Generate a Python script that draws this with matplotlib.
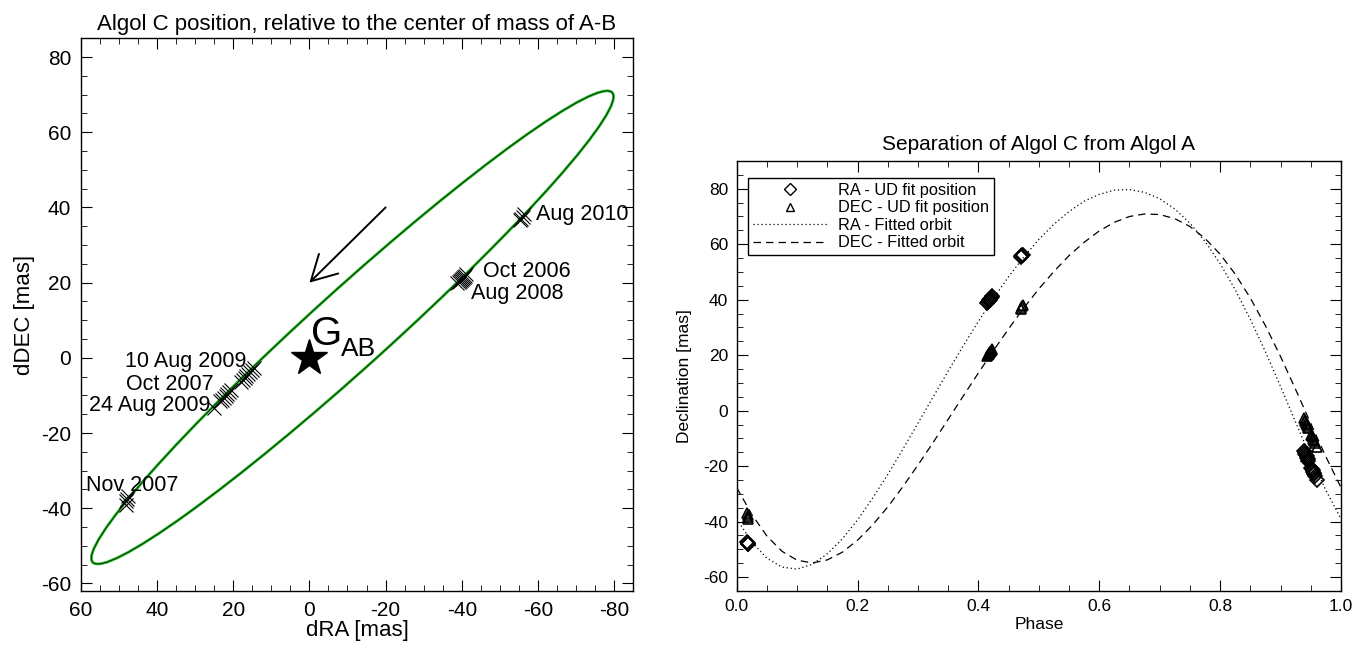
import numpy as np
import matplotlib
matplotlib.use("Agg")
import matplotlib.pyplot as plt
from matplotlib.patches import Ellipse
from matplotlib.lines import Line2D
from matplotlib.ticker import MultipleLocator

plt.rcParams.update({"font.family": ["Liberation Sans", "DejaVu Sans"],
                     "xtick.direction": "in", "ytick.direction": "in",
                     "xtick.top": True, "ytick.right": True,
                     "axes.unicode_minus": False, "axes.linewidth": 1.0})

# observations; RA as on the right panel, left panel uses dRA = -RA
obs_phase = [0.017, 0.018, 0.019, 0.019,
             0.414, 0.416, 0.417, 0.418, 0.419, 0.420, 0.421, 0.422, 0.423,
             0.470, 0.471, 0.472, 0.473,
             0.939, 0.940, 0.941, 0.942, 0.943, 0.944, 0.945, 0.946,
             0.951, 0.952, 0.953, 0.954, 0.955, 0.956, 0.957, 0.961]
obs_ra = [-47.5, -47.8, -48.0, -48.2,
          38.8, 39.2, 39.5, 39.8, 40.0, 40.3, 40.6, 40.9, 41.2,
          55.3, 55.6, 56.0, 56.2,
          -14.5, -15.0, -15.5, -16.0, -16.5, -17.0, -17.5, -18.0,
          -20.5, -21.0, -21.5, -22.0, -22.5, -23.0, -23.5, -25.0]
obs_dec = [-36.8, -37.5, -38.2, -39.0,
           19.8, 20.1, 20.4, 20.7, 21.0, 21.3, 21.6, 21.9, 22.2,
           36.6, 37.0, 37.6, 38.2,
           -2.8, -3.3, -3.8, -4.3, -4.8, -5.3, -5.8, -6.3,
           -8.6, -9.1, -9.6, -10.1, -10.6, -11.1, -11.6, -13.2]

# fitted orbit, sampled every 0.025 in phase
fit_phase = np.linspace(0, 1, 41)
ra_fit = [-39.0, -47.3, -53.2, -56.4, -57.1, -55.4, -51.6, -46.2, -39.4, -31.5, -23.0,
          -13.9, -4.5, 4.9, 14.3, 23.4, 32.2, 40.5, 48.3, 55.4, 61.7, 67.2, 71.8, 75.5,
          78.0, 79.5, 79.7, 78.7, 76.4, 72.7, 67.6, 61.0, 53.0, 43.6, 32.9, 21.2, 8.7,
          -4.2, -16.9, -28.7, -39.0]
dec_fit = [-27.7, -37.4, -45.2, -50.7, -53.9, -54.9, -53.8, -51.0, -46.7, -41.2, -34.7,
           -27.4, -19.6, -11.5, -3.1, 5.3, 13.6, 21.7, 29.5, 37.0, 43.9, 50.2, 55.9, 60.7,
           64.8, 67.9, 70.0, 70.9, 70.7, 69.2, 66.4, 62.1, 56.4, 49.2, 40.6, 30.6, 19.5,
           7.6, -4.6, -16.6, -27.7]

# apparent orbit ellipse (dRA, dDEC): centre, full axes, position angle
orbit_center = (-11.3, 8.1)
orbit_major, orbit_minor, orbit_angle = 184.9, 20.5, -42.5

# epoch labels: text, (x, y), horizontal alignment
epoch_labels = [("Aug 2010", (-59.5, 38.0), "left"),
                ("Oct 2006", (-45.5, 23.0), "left"),
                ("Aug 2008", (-42.5, 17.0), "left"),
                ("10 Aug 2009", (16.5, -1.0), "right"),
                ("Oct 2007", (25.0, -7.0), "right"),
                ("24 Aug 2009", (26.0, -12.8), "right"),
                ("Nov 2007", (58.5, -34.0), "left")]
arrow_from, arrow_to = (-20, 40), (0, 20)

fig = plt.figure(figsize=(13.66, 6.5), dpi=100)

# left: position on sky
ax = fig.add_axes([0.0591, 0.0908, 0.4045, 0.8503])
ax.add_patch(Ellipse(orbit_center, orbit_major, orbit_minor, angle=orbit_angle,
                     fill=False, ec="#1fb41f", lw=2.0))
ax.add_patch(Ellipse(orbit_center, orbit_major, orbit_minor, angle=orbit_angle,
                     fill=False, ec="black", lw=0.45))
ax.plot(-np.array(obs_ra), obs_dec, "x", color="black", ms=10, mew=0.8)
ax.plot([0], [0], "*", color="black", ms=27)
ax.text(-0.5, 3.5, "G", fontsize=29, ha="left", va="baseline")
ax.text(-8.3, 0.5, "AB", fontsize=19, ha="left", va="baseline")
for txt, xy, ha in epoch_labels:
    ax.text(xy[0], xy[1], txt, fontsize=15.5, ha=ha, va="center")
ax.annotate("", xy=arrow_to, xytext=arrow_from,
            arrowprops=dict(arrowstyle="->,head_length=0.4,head_width=0.22",
                            mutation_scale=45, lw=1.4, color="black",
                            shrinkA=0, shrinkB=0))
ax.set_xlim(60, -85)
ax.set_ylim(-62, 85)
ax.xaxis.set_major_locator(MultipleLocator(20))
ax.xaxis.set_minor_locator(MultipleLocator(5))
ax.yaxis.set_major_locator(MultipleLocator(20))
ax.yaxis.set_minor_locator(MultipleLocator(5))
ax.tick_params(which="major", length=8, labelsize=15, pad=7)
ax.tick_params(which="minor", length=4)
ax.set_xlabel("dRA [mas]", fontsize=16, labelpad=0)
ax.set_ylabel("dDEC [mas]", fontsize=16, labelpad=4)
ax.set_title("Algol C position, relative to the center of mass of A-B", fontsize=16, pad=6)

# right: separation versus phase
ax2 = fig.add_axes([0.5393, 0.0908, 0.4424, 0.6615])
ax2.plot(fit_phase, ra_fit, ls=(0, (1, 2.2)), color="black", lw=0.9)
ax2.plot(fit_phase, dec_fit, ls=(0, (6, 4)), color="black", lw=0.9)
ax2.plot(obs_phase, obs_ra, "D", mfc="none", mec="black", ms=7, mew=1.2)
ax2.plot(obs_phase, obs_dec, "^", mfc="none", mec="black", ms=7, mew=1.2)
ax2.set_xlim(0, 1)
ax2.set_ylim(-65, 90)
ax2.xaxis.set_major_locator(MultipleLocator(0.2))
ax2.xaxis.set_minor_locator(MultipleLocator(0.05))
ax2.yaxis.set_major_locator(MultipleLocator(20))
ax2.yaxis.set_minor_locator(MultipleLocator(5))
ax2.xaxis.set_major_formatter(lambda v, p: f"{v:.1f}")
ax2.tick_params(which="major", length=8, labelsize=12.5, pad=6)
ax2.tick_params(which="minor", length=4)
ax2.set_xlabel("Phase", fontsize=12.5, labelpad=2)
ax2.set_ylabel("Declination [mas]", fontsize=12.5, labelpad=8)
ax2.set_title("Separation of Algol C from Algol A", fontsize=15, pad=8)
handles = [Line2D([], [], ls="none", marker="D", mfc="none", mec="black", ms=6),
           Line2D([], [], ls="none", marker="^", mfc="none", mec="black", ms=6),
           Line2D([], [], ls=(0, (1, 2.2)), color="black", lw=0.9),
           Line2D([], [], ls=(0, (6, 4)), color="black", lw=0.9)]
names = ["RA - UD fit position", "DEC - UD fit position",
         "RA - Fitted orbit", "DEC - Fitted orbit"]
leg = ax2.legend(handles, names, loc="upper left", bbox_to_anchor=(0.0187, 0.9605),
                 borderaxespad=0, fontsize=11.8, handlelength=4.5, handletextpad=0.7,
                 labelspacing=0.15, borderpad=0.3, fancybox=False, edgecolor="black",
                 framealpha=1, numpoints=1)
leg.get_frame().set_linewidth(1.0)

fig.savefig("out.png", dpi=100)
